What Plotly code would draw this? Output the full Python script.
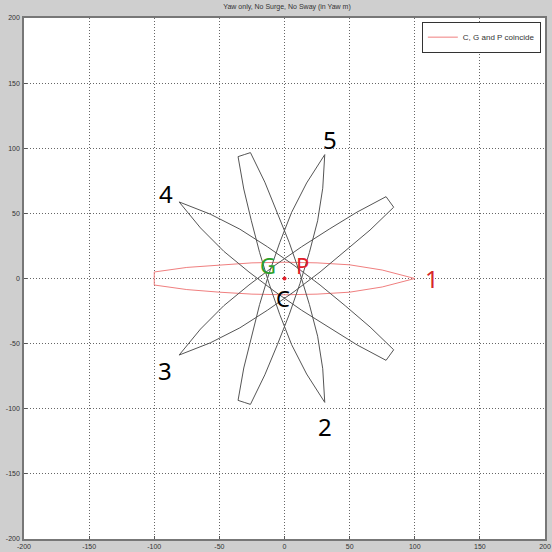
import numpy as np
import plotly.graph_objects as go

# Hull outline (ship at zero yaw), upper side
hull_x = [-100, -100, -75, -50, -25, 0, 25, 50, 75, 100]
hull_y_upper = [0, 5, 8.5, 10.5, 12, 12.5, 12, 10.5, 6.5, 0]

# Yaw angles (deg) of the five positions
positions = ["1", "2", "3", "4", "5"]
yaw_deg = [0, -72, -144, 144, 72]

# Annotation labels
num_x = [113, 31, -92, -91, 35]
num_y = [0, -114, -71, 65, 107]
num_color = ["#d62728", "black", "black", "black", "black"]

pt_labels = ["G", "P", "C"]
pt_x = [-13, 14, -1]
pt_y = [10, 10, -15]
pt_color = ["#2ca02c", "#e3202a", "black"]

xt = [-200, -150, -100, -50, 0, 50, 100, 150, 200]

# Closed outline: upper side then lower side back
ox = list(hull_x) + list(reversed(hull_x))
oy = list(hull_y_upper) + [-v for v in reversed(hull_y_upper)]
ox = np.array(ox, dtype=float)
oy = np.array(oy, dtype=float)

fig = go.Figure()
for i, (name, a) in enumerate(zip(positions, yaw_deg)):
    t = np.deg2rad(a)
    rx = ox * np.cos(t) - oy * np.sin(t)
    ry = ox * np.sin(t) + oy * np.cos(t)
    if i == 0:
        fig.add_trace(go.Scatter(x=rx, y=ry, mode="lines",
                                 line=dict(color="#f07f7f", width=1),
                                 name="C, G and P coincide", showlegend=True))
    else:
        fig.add_trace(go.Scatter(x=rx, y=ry, mode="lines",
                                 line=dict(color="#555555", width=1),
                                 showlegend=False, hoverinfo="skip"))

fig.add_trace(go.Scatter(x=[0], y=[0], mode="markers",
                         marker=dict(color="#e3202a", size=4),
                         showlegend=False))

for n, x, y, c in zip(positions, num_x, num_y, num_color):
    fig.add_annotation(x=x, y=y, text=n, showarrow=False,
                       font=dict(size=24, color=c, family="Noto Sans"))
for n, x, y, c in zip(pt_labels, pt_x, pt_y, pt_color):
    fig.add_annotation(x=x, y=y, text=n, showarrow=False,
                       font=dict(size=22, color=c, family="Noto Sans"))

axis_common = dict(range=[-200, 200], tickvals=xt, ticktext=[str(v) for v in xt],
                   showgrid=True, gridcolor="#666666", griddash="1px,2px", gridwidth=1,
                   zeroline=False, showline=True, mirror=True, linecolor="#777777",
                   linewidth=1.5, ticks="inside", ticklen=3, tickcolor="#555555",
                   automargin=False,
                   tickfont=dict(size=7, color="#333333", family="Liberation Sans"))

fig.update_layout(
    width=552, height=552,
    margin=dict(l=24, r=7, t=18, b=13),
    paper_bgcolor="#cfcfcf", plot_bgcolor="white",
    title=dict(text="Yaw only, No Surge, No Sway (in Yaw m)", x=0.52, xanchor="center",
               y=0.993, yanchor="top", automargin=False,
               font=dict(size=7, color="#333333", family="Liberation Sans")),
    xaxis=dict(axis_common, ticklabelstandoff=0),
    yaxis=dict(axis_common, ticklabelstandoff=1),
    legend=dict(x=0.992, y=0.993, xanchor="right", yanchor="top",
                bgcolor="white", bordercolor="#333333", borderwidth=1,
                font=dict(size=8, color="#333333", family="Liberation Sans"),
                itemwidth=30, tracegroupgap=0),
    showlegend=True,
)

fig.write_html("out.html", config={"displayModeBar": False},
               post_script="document.body.style.margin='0';document.body.style.background='#cfcfcf';")
